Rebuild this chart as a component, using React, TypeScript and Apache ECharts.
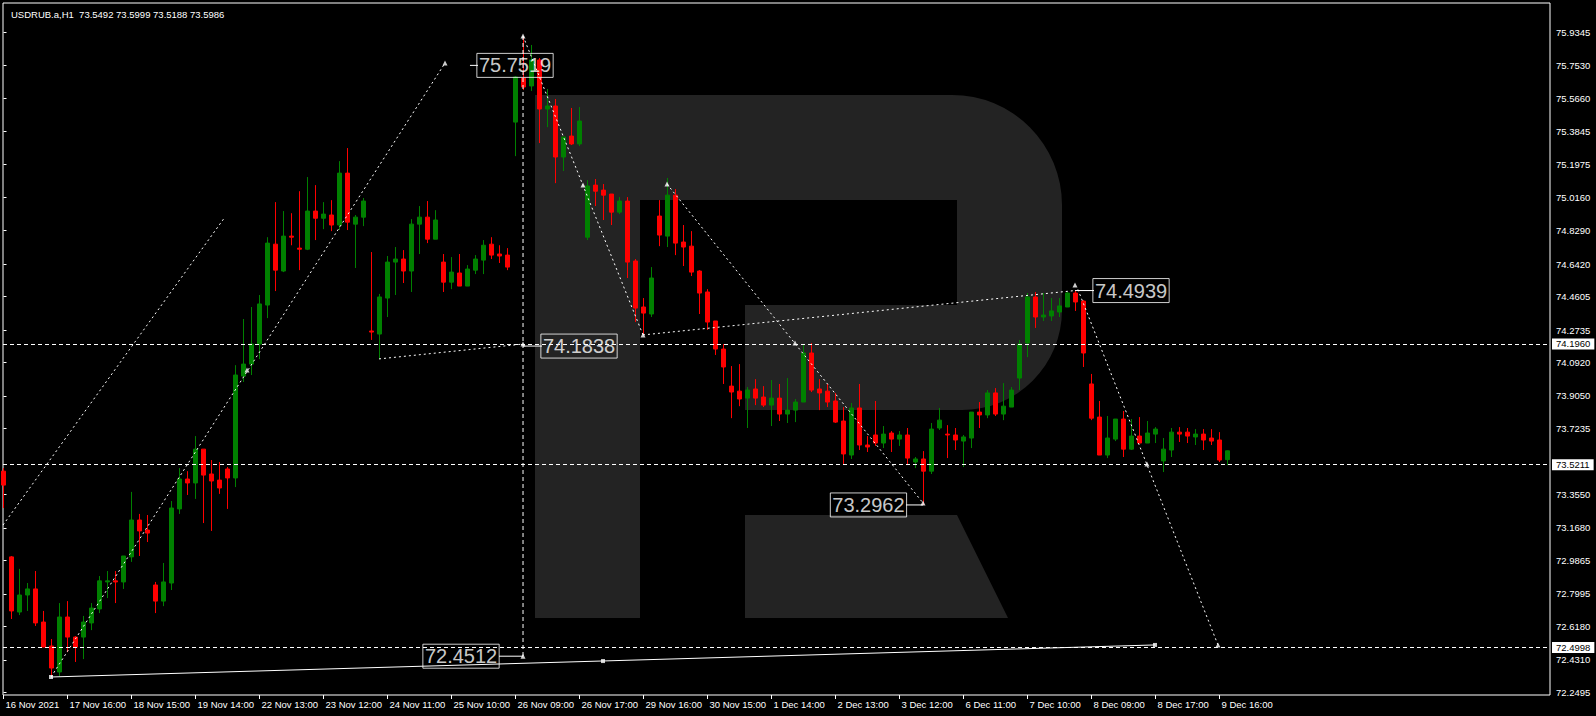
import React, { useEffect, useRef } from 'react';
import * as echarts from 'echarts';

const FONT = 'Liberation Sans, Arial, sans-serif';

const symbolName = 'USDRUB.a,H1';

const timeLabels = [
  '16 Nov 2021', '17 Nov 16:00', '18 Nov 15:00', '19 Nov 14:00', '22 Nov 13:00',
  '23 Nov 12:00', '24 Nov 11:00', '25 Nov 10:00', '26 Nov 09:00', '26 Nov 17:00',
  '29 Nov 16:00', '30 Nov 15:00', '1 Dec 14:00', '2 Dec 13:00', '3 Dec 12:00',
  '6 Dec 11:00', '7 Dec 10:00', '8 Dec 09:00', '8 Dec 17:00', '9 Dec 16:00',
];
const barsPerLabel = 8;

const priceTicks = [
  75.9345, 75.753, 75.566, 75.3845, 75.1975, 75.016, 74.829, 74.642, 74.4605, 74.2735,
  74.092, 73.905, 73.7235, 73.355, 73.168, 72.9865, 72.7995, 72.618, 72.431, 72.2495,
];

const opens = [
  73.485, 73.006, 72.698, 72.793, 72.827, 72.642, 72.508, 72.363, 72.670, 72.558,
  72.558, 72.637, 72.715, 72.866, 72.872, 72.866, 73.006, 73.212, 73.156, 72.849,
  72.759, 72.860, 73.274, 73.441, 73.419, 73.608, 73.469, 73.435, 73.497, 73.447,
  74.016, 74.083, 74.195, 74.413, 74.753, 74.603, 74.798, 74.731, 74.725, 74.938,
  74.898, 74.916, 74.860, 75.150, 74.865, 74.904, 74.268, 74.251, 74.452, 74.653,
  74.670, 74.603, 74.865, 74.904, 74.781, 74.653, 74.541, 74.592, 74.519, 74.608,
  74.664, 74.753, 74.698, 74.692, 75.435, 75.681, 75.637, 75.782, 75.508, 75.525,
  75.240, 75.357, 75.313, 74.792, 75.083, 75.055, 75.033, 74.932, 74.994, 74.659,
  74.402, 74.363, 74.910, 74.798, 75.027, 74.765, 74.742, 74.603, 74.486, 74.324,
  74.167, 73.960, 73.932, 73.893, 73.944, 73.899, 73.854, 73.893, 73.804, 73.826,
  73.871, 74.145, 73.944, 73.932, 73.877, 73.765, 73.575, 73.838, 73.631, 73.687,
  73.642, 73.698, 73.664, 73.687, 73.536, 73.553, 73.485, 73.726, 73.692, 73.687,
  73.653, 73.670, 73.815, 73.799, 73.922, 73.804, 73.843, 74.005, 74.201, 74.458,
  74.346, 74.352, 74.374, 74.402, 74.480, 74.435, 73.972, 73.787, 73.575, 73.664,
  73.776, 73.608, 73.681, 73.642, 73.692, 73.542, 73.603, 73.703, 73.703, 73.676,
  73.692, 73.670, 73.659, 73.5492,
];
const closes = [
  73.407, 72.704, 72.793, 72.827, 72.637, 72.502, 72.385, 72.670, 72.558, 72.502,
  72.642, 72.720, 72.872, 72.872, 72.866, 73.011, 73.212, 73.151, 73.139, 72.759,
  72.866, 73.279, 73.441, 73.419, 73.608, 73.463, 73.430, 73.391, 73.447, 74.022,
  74.083, 74.195, 74.419, 74.759, 74.608, 74.798, 74.792, 74.725, 74.938, 74.898,
  74.921, 74.860, 75.150, 74.876, 74.904, 74.994, 74.262, 74.458, 74.653, 74.670,
  74.603, 74.865, 74.904, 74.781, 74.888, 74.541, 74.597, 74.519, 74.614, 74.670,
  74.747, 74.692, 74.687, 74.625, 75.687, 75.631, 75.782, 75.508, 75.525, 75.240,
  75.352, 75.313, 75.441, 75.078, 75.049, 75.027, 74.932, 74.994, 74.653, 74.396,
  74.368, 74.564, 74.804, 75.027, 74.759, 74.737, 74.597, 74.480, 74.318, 74.167,
  74.067, 73.927, 73.888, 73.938, 73.893, 73.854, 73.893, 73.804, 73.826, 73.871,
  74.145, 73.938, 73.922, 73.871, 73.759, 73.581, 73.838, 73.631, 73.620, 73.642,
  73.692, 73.664, 73.687, 73.558, 73.553, 73.485, 73.720, 73.770, 73.687, 73.659,
  73.676, 73.815, 73.799, 73.922, 73.804, 73.848, 73.938, 74.195, 74.458, 74.346,
  74.357, 74.380, 74.408, 74.480, 74.430, 74.145, 73.781, 73.575, 73.670, 73.776,
  73.608, 73.681, 73.642, 73.698, 73.720, 73.608, 73.703, 73.692, 73.681, 73.692,
  73.659, 73.653, 73.547, 73.5986,
];
const lows = [
  73.279, 72.659, 72.681, 72.704, 72.620, 72.502, 72.335, 72.340, 72.474, 72.419,
  72.435, 72.597, 72.692, 72.776, 72.748, 72.827, 72.978, 73.011, 73.089, 72.692,
  72.731, 72.821, 73.246, 73.352, 73.330, 73.195, 73.151, 73.358, 73.274, 73.396,
  73.983, 74.022, 74.111, 74.340, 74.491, 74.597, 74.747, 74.608, 74.720, 74.776,
  74.837, 74.826, 74.832, 74.832, 74.620, 74.854, 74.218, 74.111, 74.346, 74.469,
  74.536, 74.486, 74.698, 74.759, 74.781, 74.486, 74.502, 74.519, 74.519, 74.586,
  74.586, 74.670, 74.648, 74.608, 75.245, 75.614, 75.609, 75.318, 75.407, 75.094,
  75.162, 75.307, 75.301, 74.776, 74.966, 74.888, 74.860, 74.921, 74.564, 74.318,
  74.245, 74.346, 74.742, 74.737, 74.692, 74.631, 74.575, 74.363, 74.274, 74.134,
  73.972, 73.781, 73.848, 73.726, 73.854, 73.843, 73.737, 73.765, 73.754, 73.759,
  73.871, 73.927, 73.826, 73.843, 73.754, 73.525, 73.553, 73.603, 73.592, 73.626,
  73.614, 73.592, 73.626, 73.519, 73.502, 73.296, 73.469, 73.715, 73.558, 73.603,
  73.508, 73.614, 73.726, 73.781, 73.793, 73.770, 73.843, 73.938, 74.122, 74.285,
  74.324, 74.324, 74.346, 74.402, 74.380, 74.067, 73.770, 73.575, 73.558, 73.653,
  73.564, 73.603, 73.642, 73.642, 73.642, 73.480, 73.564, 73.648, 73.642, 73.631,
  73.603, 73.631, 73.536, 73.5188,
];
const highs = [
  73.502, 73.011, 72.939, 72.860, 72.927, 72.704, 72.547, 72.748, 72.759, 72.564,
  72.676, 72.748, 72.899, 72.927, 72.927, 73.011, 73.369, 73.246, 73.240, 72.866,
  72.972, 73.318, 73.502, 73.485, 73.681, 73.608, 73.547, 73.536, 73.508, 74.077,
  74.335, 74.402, 74.469, 74.792, 74.988, 74.938, 74.926, 75.049, 75.128, 75.083,
  74.988, 74.999, 75.217, 75.290, 74.916, 75.011, 74.709, 74.475, 74.687, 74.737,
  74.720, 74.893, 74.966, 74.994, 74.943, 74.698, 74.681, 74.698, 74.636, 74.692,
  74.776, 74.792, 74.747, 74.731, 75.692, 75.916, 75.866, 75.793, 75.620, 75.564,
  75.352, 75.514, 75.519, 75.111, 75.117, 75.089, 75.033, 75.016, 75.016, 74.670,
  74.452, 74.625, 74.999, 75.123, 75.061, 74.860, 74.826, 74.608, 74.502, 74.324,
  74.195, 74.072, 74.083, 73.955, 73.999, 73.960, 73.994, 73.972, 74.005, 73.888,
  74.195, 74.201, 73.999, 73.972, 73.922, 73.843, 73.866, 73.972, 73.681, 73.877,
  73.737, 73.709, 73.709, 73.726, 73.564, 73.597, 73.754, 73.838, 73.742, 73.726,
  73.687, 73.815, 73.871, 73.938, 73.949, 73.977, 73.955, 74.218, 74.480, 74.486,
  74.480, 74.452, 74.452, 74.486, 74.494, 74.441, 74.028, 73.877, 73.793, 73.776,
  73.821, 73.776, 73.787, 73.765, 73.731, 73.670, 73.726, 73.731, 73.726, 73.720,
  73.720, 73.720, 73.703, 73.5999,
];

// horizontal levels drawn by the analyst, and the bid price marker
const levelLines = [74.196, 73.5211, 72.4998];
const bidPrice = 73.5986;

// dotted trend lines: [barIndex, price] pairs
const dottedLines = [
  [[-0.06, 73.184], [27.69, 74.905]],
  [[5.94, 72.335], [55.19, 75.765]],
  [[64.94, 75.916], [79.94, 74.246]],
  [[79.94, 74.246], [133.94, 74.494]],
  [[46.94, 74.112], [64.94, 74.195]],
  [[82.94, 75.089], [114.94, 73.307]],
  [[134.3, 74.5], [151.81, 72.514]],
];
const verticalLine = [[64.94, 75.916], [64.94, 72.4512]];
const solidLine = [[5.94, 72.335], [143.94, 72.514]];
const connectors = [
  [[58.31, 75.7519], [59.31, 75.7519]],
  [[64.94, 74.1838], [67.31, 74.1838]],
  [[133.94, 74.4939], [136.31, 74.4939]],
  [[112.81, 73.2962], [114.94, 73.2962]],
  [[61.94, 72.4512], [64.94, 72.4512]],
];
const arrowPoints = [
  [55.19, 75.765], [30.44, 74.05], [64.94, 75.916], [72.44, 75.084], [79.94, 74.246],
  [64.94, 74.195], [82.94, 75.089], [98.94, 74.201], [114.94, 73.307], [133.94, 74.525],
  [142.94, 73.525], [151.81, 72.514], [64.94, 72.4512],
];
const squarePoints = [[5.94, 72.335], [74.94, 72.424], [143.94, 72.514]];
// price labels placed by the analyst: [barIndex of label centre, price]
const priceLabels = [
  [63.94, 75.7519], [71.94, 74.1838], [140.94, 74.4939], [108.12, 73.2962], [57.19, 72.4512],
];

const LOGO_PATH =
  'M535 95 H952 A110 110 0 0 1 1062 205 V310 A100 100 0 0 1 962 410 H745 V305 H957 V200 H640 V618 H535 Z ' +
  'M745 515 H957 L1008 618 H745 Z';
echarts.graphic.registerShape('rlogo', echarts.graphic.extendPath(LOGO_PATH, {}));

export default function App() {
  const ref = useRef<HTMLDivElement>(null);

  useEffect(() => {
    document.body.style.margin = '0';
    document.body.style.background = '#000';
    const chart = echarts.init(ref.current!, null, { renderer: 'svg' });
    const n = opens.length;
    const candleData = opens.map((o, i) => [i, o, closes[i], lows[i], highs[i]]);
    const labelIdx = timeLabels.map((_, k) => k * barsPerLabel);
    const last = n - 1;
    const header = `${symbolName}  ${opens[last].toFixed(4)} ${highs[last].toFixed(4)} ${lows[last].toFixed(4)} ${closes[last].toFixed(4)}`;

    const lineBase = {
      type: 'line',
      showSymbol: false,
      symbol: 'none',
      silent: true,
      z: 4,
      clip: true,
    };

    const series: any[] = [
      {
        type: 'candlestick',
        data: candleData,
        encode: { x: 0, y: [1, 2, 3, 4] },
        barWidth: 4,
        clip: true,
        z: 3,
        itemStyle: {
          color: '#008000',
          color0: '#ff0000',
          borderColor: '#008000',
          borderColor0: '#ff0000',
          borderColorDoji: '#008000',
          borderWidth: 1,
        },
        markLine: {
          silent: true,
          symbol: ['none', 'none'],
          precision: 4,
          lineStyle: { color: '#ffffff', type: [4, 3], width: 1 },
          label: {
            position: 'end',
            distance: 2,
            formatter: (p: any) => Number(p.value).toFixed(4),
            color: '#000',
            backgroundColor: '#fff',
            padding: [1, 4, 0, 4],
            fontSize: 9.5,
            lineHeight: 10,
            fontFamily: FONT,
          },
          data: [
            ...levelLines.map((v) => ({ yAxis: v })),
            { yAxis: bidPrice, lineStyle: { opacity: 0 } },
          ],
        },
      },
      ...dottedLines.map((d) => ({
        ...lineBase,
        data: d,
        lineStyle: { color: '#fff', width: 1, type: [2, 3] },
      })),
      {
        ...lineBase,
        data: verticalLine,
        lineStyle: { color: '#fff', width: 1, type: [4, 3] },
      },
      {
        ...lineBase,
        data: solidLine,
        lineStyle: { color: '#fff', width: 1 },
      },
      ...connectors.map((d) => ({
        ...lineBase,
        data: d,
        lineStyle: { color: '#fff', width: 1 },
      })),
      {
        type: 'scatter',
        data: arrowPoints,
        symbol: 'triangle',
        symbolSize: 5,
        itemStyle: { color: '#fff' },
        silent: true,
        z: 5,
      },
      {
        type: 'scatter',
        data: squarePoints,
        symbol: 'rect',
        symbolSize: 4,
        itemStyle: { color: '#fff' },
        silent: true,
        z: 5,
      },
      {
        type: 'scatter',
        data: priceLabels,
        symbolSize: 0,
        silent: true,
        z: 6,
        label: {
          show: true,
          position: 'inside',
          formatter: (p: any) => Number(p.value[1]).toFixed(4),
          color: '#ffffff',
          fontSize: 20,
          lineHeight: 22,
          fontFamily: FONT,
          borderColor: '#fff',
          borderWidth: 1,
          padding: [2, 2, 0, 2],
        },
      },
    ];

    chart.setOption({
      animation: false,
      backgroundColor: '#000',
      textStyle: { fontFamily: FONT },
      title: {
        text: header,
        left: 6,
        top: 4,
        textStyle: { color: '#fff', fontSize: 9.5, fontWeight: 'normal', fontFamily: FONT },
      },
      grid: {
        left: 3,
        top: 3,
        right: 46,
        bottom: 21,
        show: true,
        borderColor: '#ffffff',
        borderWidth: 1,
        backgroundColor: 'transparent',
      },
      graphic: [
        {
          type: 'rlogo',
          x: 0,
          y: 0,
          silent: true,
          z: 0,
          style: { fill: '#232323' },
        },
      ],
      xAxis: {
        type: 'value',
        min: -0.0625,
        max: 193.3125,
        splitLine: { show: false },
        axisLine: { show: false },
        axisTick: {
          show: true,
          customValues: labelIdx,
          length: 4,
          lineStyle: { color: '#fff' },
        },
        axisLabel: {
          customValues: labelIdx,
          formatter: (v: number) => timeLabels[Math.round(v / barsPerLabel)] ?? '',
          color: '#fff',
          fontSize: 9.5,
          align: 'left',
          margin: 4,
          padding: [0, 0, 0, 2],
          fontFamily: FONT,
        },
      },
      yAxis: {
        type: 'value',
        position: 'right',
        min: 72.2344,
        max: 76.1004,
        scale: true,
        splitLine: { show: false },
        axisLine: { show: false },
        axisTick: {
          show: true,
          customValues: priceTicks,
          length: 3,
          lineStyle: { color: '#fff' },
        },
        axisLabel: {
          customValues: priceTicks,
          formatter: (v: number) => v.toFixed(4),
          color: '#fff',
          fontSize: 9.5,
          margin: 6,
          fontFamily: FONT,
        },
      },
      series,
    });

    return () => chart.dispose();
  }, []);

  return <div ref={ref} style={{ width: 1596, height: 716 }} />;
}
